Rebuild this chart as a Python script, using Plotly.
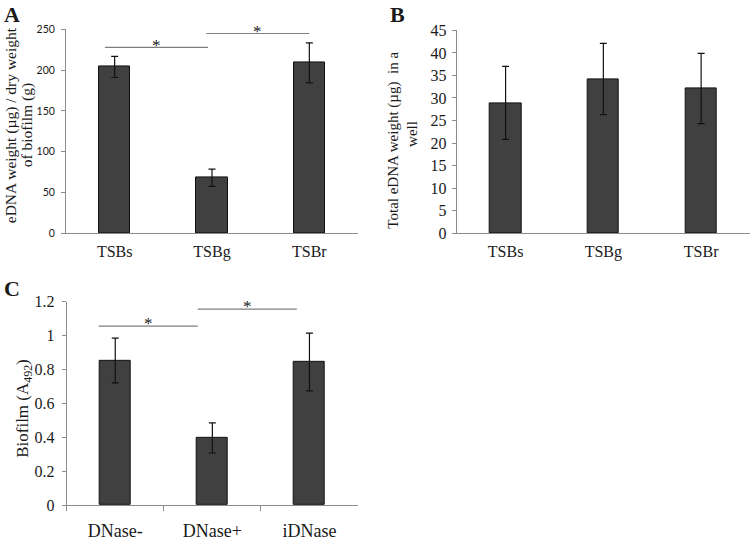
import plotly.graph_objects as go

W, H = 750, 541

# ---- data ----
cats_ab = ["TSBs", "TSBg", "TSBr"]
a_vals = [204, 68, 209]
a_err = [13, 10.5, 24.5]
b_vals = [28.9, 34.2, 32.1]
b_err = [8.1, 7.9, 7.8]
cats_c = ["DNase-", "DNase+", "iDNase"]
c_vals = [0.854, 0.397, 0.845]
c_err = [0.132, 0.089, 0.17]

# significance brackets (category index positions, value height)
sig_a_x0 = [-0.1, 0.94]
sig_a_x1 = [0.96, 2.0]
sig_a_y = [228, 245]
sig_c_x0 = [-0.17, 0.85]
sig_c_x1 = [0.85, 1.87]
sig_c_y = [1.057, 1.157]

a_ticks = [0, 50, 100, 150, 200, 250]
b_ticks = [0, 5, 10, 15, 20, 25, 30, 35, 40, 45]
c_ticks = [0, 0.2, 0.4, 0.6, 0.8, 1, 1.2]
c_ticktext = ["0", "0.2", "0.4", "0.6", "0.8", "1", "1.2"]

SERIF = "Liberation Serif, Times New Roman, serif"
SANS = "Lato, Open Sans, sans-serif"
BAR = "#404040"
AX = "#8c8c8c"
TXT = "#1a1a1a"

fig = go.Figure()

def bars(x, y, e, xa, ya):
    fig.add_trace(go.Bar(
        x=x, y=y, width=0.32, xaxis=xa, yaxis=ya,
        marker=dict(color=BAR, line=dict(color="#111111", width=1)),
        error_y=dict(type="data", array=e, visible=True, color="#111111",
                     thickness=1.2, width=3.5),
        showlegend=False, hoverinfo="skip"))

bars(cats_ab, a_vals, a_err, "x", "y")
bars(cats_ab, b_vals, b_err, "x2", "y2")
bars(cats_c, c_vals, c_err, "x3", "y3")

def px(xp): return xp / W
def py(yp): return 1 - yp / H

common_x = dict(showline=True, linecolor=AX, linewidth=1, showgrid=False,
                zeroline=False, fixedrange=True, range=[-0.5, 2.5])
common_y = dict(showline=True, linecolor=AX, linewidth=1, showgrid=False,
                zeroline=False, ticks="outside", ticklen=4, tickcolor=AX,
                fixedrange=True)

fig.update_layout(
    width=W, height=H, margin=dict(l=0, r=0, t=0, b=0),
    paper_bgcolor="white", plot_bgcolor="white", bargap=0,
    xaxis=dict(domain=[px(66), px(358)], anchor="y", ticks="",
               tickfont=dict(family=SERIF, size=16, color=TXT),
               ticklabelstandoff=4, **common_x),
    yaxis=dict(domain=[py(234.3), py(22.3)], anchor="x", range=[0, 250],
               tickvals=a_ticks, tickfont=dict(family=SANS, size=10.5, color=TXT),
               ticklabelstandoff=4, **common_y),
    xaxis2=dict(domain=[px(456.7), 1.0], anchor="y2", ticks="",
                tickfont=dict(family=SERIF, size=16, color=TXT),
                ticklabelstandoff=4, **common_x),
    yaxis2=dict(domain=[py(234.3), py(23.3)], anchor="x2", range=[0, 45],
                tickvals=b_ticks, tickfont=dict(family=SERIF, size=16, color=TXT),
                ticklabelstandoff=2, **common_y),
    xaxis3=dict(domain=[px(66.7), px(358)], anchor="y3", ticks="outside",
                ticklen=5, tickcolor=AX, tickson="boundaries",
                tickfont=dict(family=SERIF, size=18, color=TXT),
                ticklabelstandoff=9, **common_x),
    yaxis3=dict(domain=[py(517.3), py(305.7)], anchor="x3", range=[0, 1.2],
                tickvals=c_ticks, ticktext=c_ticktext,
                tickfont=dict(family=SERIF, size=16, color=TXT),
                ticklabelstandoff=4, **common_y),
)

shapes = []
annots = []
for x0, x1, yv in zip(sig_a_x0, sig_a_x1, sig_a_y):
    shapes.append(dict(type="line", xref="x", yref="y", x0=x0, x1=x1, y0=yv, y1=yv,
                       line=dict(color="#7f7f7f", width=1.2)))
    annots.append(dict(text="*", xref="x", yref="y", x=(x0 + x1) / 2, y=yv,
                       yanchor="middle", yshift=2, showarrow=False,
                       font=dict(family=SERIF, size=17, color=TXT)))
for x0, x1, yv in zip(sig_c_x0, sig_c_x1, sig_c_y):
    shapes.append(dict(type="line", xref="x3", yref="y3", x0=x0, x1=x1, y0=yv, y1=yv,
                       line=dict(color="#7f7f7f", width=1.2)))
    annots.append(dict(text="*", xref="x3", yref="y3", x=(x0 + x1) / 2, y=yv,
                       yanchor="middle", yshift=3, showarrow=False,
                       font=dict(family=SERIF, size=17, color=TXT)))

def label(text, xp, yp, size=16, angle=0, bold=False):
    annots.append(dict(text=f"<b>{text}</b>" if bold else text, xref="paper", yref="paper",
                       x=px(xp), y=py(yp), xanchor="center", yanchor="middle",
                       textangle=angle, showarrow=False,
                       font=dict(family=SERIF, size=size, color=TXT)))

# panel letters
label("A", 12, 7, size=22, bold=True)
label("B", 398, 7, size=22, bold=True)
label("C", 12, 292, size=22, bold=True)

# axis titles
label("eDNA weight (µg) / dry weight", 10.5, 122.5, size=15.5, angle=-90)
label("of biofilm (g)", 27, 122, size=15.5, angle=-90)
label("Total eDNA weight (µg)  in a", 394, 138, size=15, angle=-90)
label("well", 412, 131, size=15, angle=-90)
label("Biofilm (A<sub>492</sub>)", 24, 417, size=17, angle=-90)

fig.update_layout(shapes=shapes, annotations=annots)
fig.write_html("out.html", config={"displayModeBar": False},
               post_script="document.body.style.margin='0';")
